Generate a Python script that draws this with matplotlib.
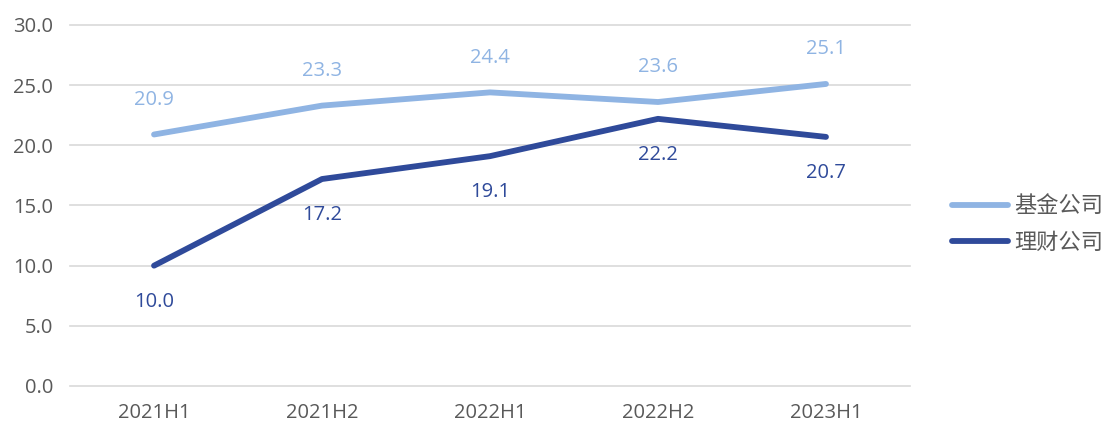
import matplotlib.pyplot as plt

plt.rcParams['font.family'] = ['Open Sans', 'Noto Sans CJK SC', 'DejaVu Sans']

periods = ['2021H1', '2021H2', '2022H1', '2022H2', '2023H1']
fund = [20.9, 23.3, 24.4, 23.6, 25.1]
wealth = [10.0, 17.2, 19.1, 22.2, 20.7]
names = ['基金公司', '理财公司']

light = '#8FB4E3'
dark = '#2F4A9A'
text_c = '#595959'

fig = plt.figure(figsize=(11.03, 4.25), dpi=100)
ax = fig.add_axes([0.0635, 0.0918, 0.7615, 0.8494])

x = range(len(periods))
ax.plot(x, fund, color=light, lw=4.2, solid_capstyle='round', label=names[0])
ax.plot(x, wealth, color=dark, lw=4.2, solid_capstyle='round', label=names[1])

for i, v in enumerate(fund):
    ax.annotate(f'{v:.1f}', (i, v), xytext=(0, 25), textcoords='offset points',
                ha='center', va='center', fontsize=14.5, color=light)
for i, v in enumerate(wealth):
    ax.annotate(f'{v:.1f}', (i, v), xytext=(0, -26), textcoords='offset points',
                ha='center', va='center', fontsize=14.5, color=dark)

ax.set_xlim(-0.5, len(periods) - 0.5)
ax.set_ylim(0, 30)
ax.set_yticks(range(0, 31, 5))
ax.set_yticklabels([f'{t:.1f}' for t in range(0, 31, 5)])
ax.set_xticks(list(x))
ax.set_xticklabels(periods)
ax.tick_params(length=0, labelsize=14.5, colors=text_c)
ax.tick_params(axis='x', pad=12)
ax.tick_params(axis='y', pad=12)
ax.grid(axis='y', color='#D9D9D9', lw=1.2, clip_on=False)
ax.set_axisbelow(True)
for s in ax.spines.values():
    s.set_visible(False)

leg = fig.legend(loc='center left', bbox_to_anchor=(0.845, 0.47), frameon=False,
                 fontsize=16, handlelength=2.5, handletextpad=0.3, labelspacing=0.7)
for t in leg.get_texts():
    t.set_color(text_c)

fig.savefig('out.png', dpi=100)
